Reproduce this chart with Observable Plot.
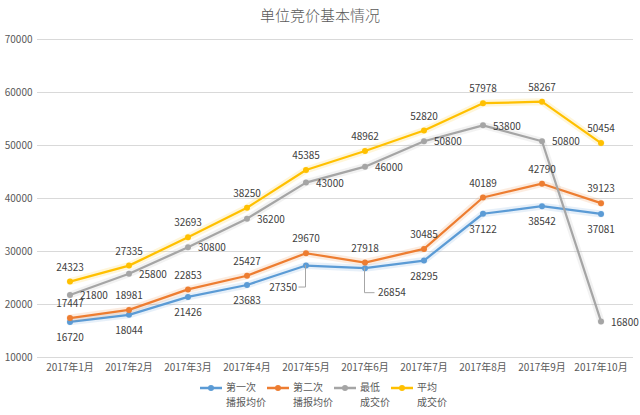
<!DOCTYPE html>
<html><head><meta charset="utf-8">
<script src="https://cdn.jsdelivr.net/npm/d3@7"></script>
<script src="https://cdn.jsdelivr.net/npm/@observablehq/plot@0.6"></script>
<style>
body{margin:0;background:#fff;font-family:"Noto Sans CJK SC","Noto Sans",sans-serif;}
#title{height:30px;line-height:30px;text-align:center;font-size:15px;color:#595959;font-weight:300;}
#chart{height:345px;}
#legend{display:flex;justify-content:center;align-items:flex-start;padding-top:4px;font-size:10px;line-height:15px;color:#595959;padding-left:6px;}
.item{display:flex;align-items:flex-start;margin:0;}
.item svg{margin-top:2px;margin-right:3px;}
</style></head><body>
<div id="title">单位竞价基本情况</div>
<div id="chart"></div>
<div id="legend"></div>
<script>
const months = ["2017年1月","2017年2月","2017年3月","2017年4月","2017年5月","2017年6月","2017年7月","2017年8月","2017年9月","2017年10月"];
const firstBid = [16720,18044,21426,23683,27350,26854,28295,37122,38542,37081];
const secondBid = [17447,18981,22853,25427,29670,27918,30485,40189,42790,39123];
const lowestDeal = [21800,25800,30800,36200,43000,46000,50800,53800,50800,16800];
const averageDeal = [24323,27335,32693,38250,45385,48962,52820,57978,58267,50454];
const seriesNames = ["第一次播报均价","第二次播报均价","最低成交价","平均成交价"];
const legendLabels = [["第一次","播报均价"],["第二次","播报均价"],["最低","成交价"],["平均","成交价"]];
const yTicks = [10000,20000,30000,40000,50000,60000,70000];

const colors = ["#5b9bd5","#ed7d31","#a5a5a5","#ffc000"];
const labelPlacement = [
  {dy: 16},
  {dy: -14},
  {dx: 10, dy: 1, textAnchor: "start"},
  {dy: -14}
];
const callouts = [
  {series: 0, month: "2017年5月", drop: 22, run: -7, dx: -9, anchor: "end"},
  {series: 0, month: "2017年6月", drop: 25, run: 10, dx: 13, anchor: "start"}
];

const rows = [];
[firstBid, secondBid, lowestDeal, averageDeal].forEach((vals, s) =>
  vals.forEach((v, i) => rows.push({s, series: seriesNames[s], month: months[i], value: v})));
const isCallout = d => callouts.some(c => c.series === d.s && c.month === d.month);

const font = '"Noto Sans CJK SC","Noto Sans",sans-serif';
const marks = [
  Plot.ruleY(yTicks, {stroke: "#d9d9d9", strokeWidth: 1})
];
seriesNames.forEach((name, s) => {
  const data = rows.filter(d => d.s === s);
  marks.push(Plot.line(data, {x: "month", y: "value", stroke: colors[s], strokeWidth: 7, strokeOpacity: 0.15}));
  marks.push(Plot.line(data, {x: "month", y: "value", stroke: colors[s], strokeWidth: 2.25}));
  marks.push(Plot.dot(data, {x: "month", y: "value", fill: colors[s], r: 3}));
});
// leader lines for callout labels
marks.push((index, scales) => {
  const x = scales.x, y = scales.y;
  const bw = typeof x.bandwidth === "function" ? x.bandwidth() : (x.bandwidth || 0);
  const g = d3.create("svg:g").attr("fill", "none").attr("stroke", "#a6a6a6").attr("stroke-width", 1);
  for (const c of callouts) {
    const d = rows.find(r => r.s === c.series && r.month === c.month);
    const px = x(d.month) + bw / 2, py = y(d.value);
    g.append("path").attr("d", `M${px},${py}V${py + c.drop}H${px + c.run}`);
  }
  return g.node();
});
seriesNames.forEach((name, s) => {
  const data = rows.filter(d => d.s === s && !isCallout(d));
  marks.push(Plot.text(data, {x: "month", y: "value", text: d => String(d.value), fill: "#404040", fontSize: 10, ...labelPlacement[s]}));
});
for (const c of callouts) {
  const data = rows.filter(d => d.s === c.series && d.month === c.month);
  marks.push(Plot.text(data, {x: "month", y: "value", text: d => String(d.value), fill: "#404040", fontSize: 10, dx: c.dx, dy: c.drop, textAnchor: c.anchor}));
}

const chart = Plot.plot({
  width: 640, height: 345,
  marginTop: 9, marginBottom: 18, marginLeft: 37, marginRight: 7,
  style: {fontFamily: font, fontSize: "10px", color: "#595959", background: "white", overflow: "visible"},
  x: {type: "band", domain: months, padding: 0, label: null, tickSize: 0, tickPadding: 6},
  y: {domain: [10000, 70000], ticks: yTicks, tickFormat: d => String(d), label: null, tickSize: 0, tickPadding: 5},
  marks
});
document.getElementById("chart").appendChild(chart);

const legend = document.getElementById("legend");
legendLabels.forEach((lines, s) => {
  const item = document.createElement("div");
  item.className = "item";
  item.innerHTML = `<svg width="24" height="12"><line x1="1" x2="23" y1="7" y2="7" stroke="${colors[s]}" stroke-width="2.5"/><circle cx="12" cy="7" r="3" fill="${colors[s]}"/></svg><div>${lines[0]}<br>${lines[1]}</div>`;
  legend.appendChild(item);
});
</script>
</body></html>
